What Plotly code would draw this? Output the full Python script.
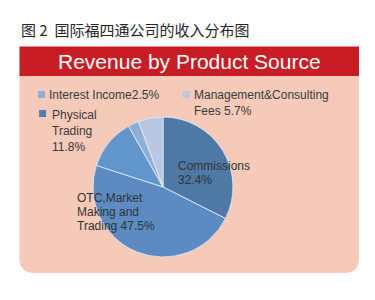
import plotly.graph_objects as go

W, H = 375, 300

# ---- data ----
categories = ["Commissions", "OTC,Market Making and Trading", "Physical Trading",
              "Interest Income", "Management&Consulting Fees"]
shares = [32.4, 47.5, 11.8, 2.5, 5.7]
slice_colors = ["#4e79a6", "#5b8bc1", "#6196cb", "#8eb0d6", "#b9c7e1"]

fig_title = "图 2  国际福四通公司的收入分布图"
chart_title = "Revenue by Product Source"


def px(x):
    return x / W


def py(y):
    return 1 - y / H


fig = go.Figure()
fig.add_trace(go.Pie(
    labels=categories,
    values=shares,
    sort=False,
    direction="clockwise",
    rotation=0,
    marker=dict(colors=slice_colors, line=dict(color="#e8eef6", width=0.8)),
    textinfo="none",
    hoverinfo="label+percent",
    showlegend=False,
    domain=dict(x=[px(93), px(233)], y=[py(257), py(117)]),
))

shapes = []
# pink panel with rounded bottom corners
l, r, t, b, rad = px(19.5), px(359), py(76), py(273), 15
rx, ry = rad / W, rad / H
path = (f"M {l},{t} L {r},{t} L {r},{b+ry} Q {r},{b} {r-rx},{b} "
        f"L {l+rx},{b} Q {l},{b} {l},{b+ry} Z")
shapes.append(dict(type="path", xref="paper", yref="paper", path=path,
                   fillcolor="#f5cab9", line=dict(width=0), layer="below"))
# red header bar
shapes.append(dict(type="rect", xref="paper", yref="paper",
                   x0=px(19.5), x1=px(359), y0=py(76), y1=py(46.5),
                   fillcolor="#c81d24", line=dict(width=0), layer="below"))
# legend squares
squares = [(38, 91, "#8eb0d6"), (39, 110, "#5180b0"), (183, 91, "#b9c7e1")]
for sx, sy, c in squares:
    shapes.append(dict(type="rect", xref="paper", yref="paper",
                       x0=px(sx), x1=px(sx + 7), y0=py(sy + 7), y1=py(sy),
                       fillcolor=c, line=dict(width=0)))

ann = []


def add_text(x, y, s, size=12, color="#3a3a3a"):
    ann.append(dict(x=px(x), y=py(y), xref="paper", yref="paper", text=s,
                    showarrow=False, xanchor="left", yanchor="middle",
                    font=dict(family="Liberation Sans, Arial", size=size, color=color)))


add_text(47, 95, "Interest Income2.5%")
add_text(50, 115, "Physical")
add_text(50, 131, "Trading")
add_text(50, 147, "11.8%")
add_text(192, 95, "Management&Consulting")
add_text(192, 111, "Fees 5.7%")
add_text(176, 165.5, "Commissions", color="#333333")
add_text(176, 179.5, "32.4%", color="#333333")
add_text(75, 198, "OTC,Market", color="#333333")
add_text(75, 212, "Making and", color="#333333")
add_text(75, 226, "Trading 47.5%", color="#333333")

# header title
ann.append(dict(x=px(189), y=py(61.5), xref="paper", yref="paper", text=chart_title,
                showarrow=False, xanchor="center", yanchor="middle",
                font=dict(family="Liberation Sans, Arial", size=21, color="white")))
# figure caption
ann.append(dict(x=px(19), y=py(30), xref="paper", yref="paper", text=fig_title,
                showarrow=False, xanchor="left", yanchor="middle",
                font=dict(family="Noto Sans CJK SC", size=15, color="#262626")))

fig.update_layout(
    width=W, height=H,
    margin=dict(l=0, r=0, t=0, b=0),
    paper_bgcolor="white",
    plot_bgcolor="white",
    shapes=shapes,
    annotations=ann,
)

fig.write_html("out.html", config={"displayModeBar": False})
